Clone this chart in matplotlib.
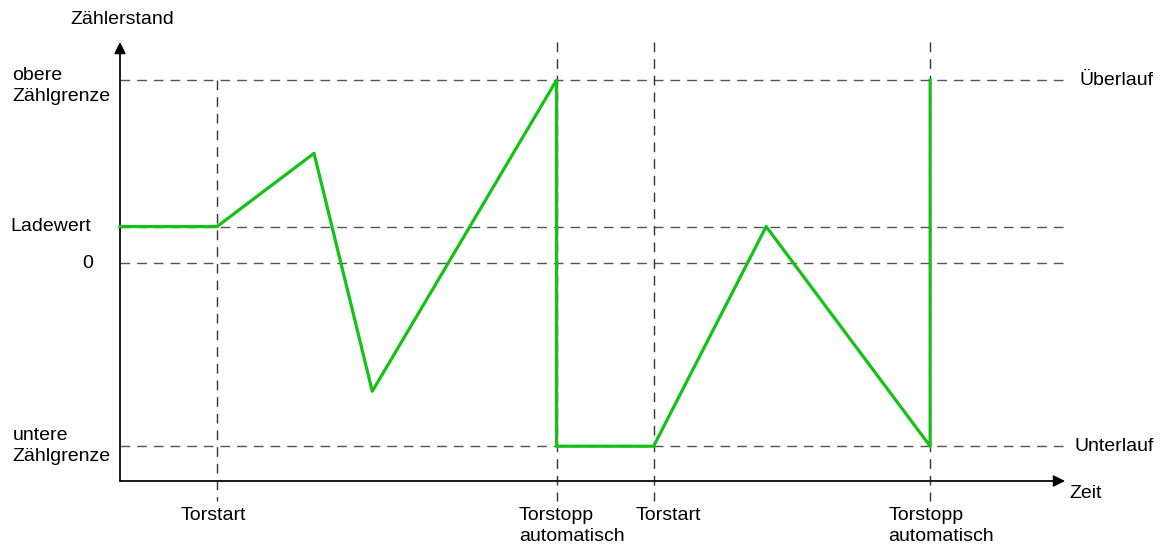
import matplotlib
matplotlib.use("Agg")
import matplotlib.pyplot as plt

plt.rcParams['font.family'] = ['Liberation Sans', 'DejaVu Sans']
plt.rcParams['lines.scale_dashes'] = False

# count levels
upper_limit = 100
load_value = 20
zero = 0
lower_limit = -100

# time marks
t_start1 = 10
t_stop1 = 45
t_start2 = 55
t_stop2 = 83.5
t_end = 97.4

# counter curve
curve_t = [0, 10, 20, 26, 45, 45, 55, 66.6, 83.5, 83.5]
curve_y = [20, 20, 60, -70, 100, -100, -100, 20, -100, 100]

level_values = [upper_limit, load_value, zero, lower_limit]
level_labels_left = ["obere\nZählgrenze", "Ladewert", "0", "untere\nZählgrenze"]
gate_times = [t_start1, t_stop1, t_start2, t_stop2]
gate_labels = ["Torstart", "Torstopp\nautomatisch", "Torstart", "Torstopp\nautomatisch"]

fig = plt.figure(figsize=(11.67, 5.46), dpi=100)
W, H = 1167, 546
ax = fig.add_axes([120 / W, (H - 481) / H, 945 / W, 439 / H])
ax.set_xlim(0, t_end)
ax.set_ylim(-119, 120.8)
ax.axis('off')

dash = (0, (7, 5))
gray = '#555555'
fs = 14

# horizontal guide lines
for v in level_values:
    ax.plot([0, t_end], [v, v], color=gray, lw=1, linestyle=dash, clip_on=False)

# vertical guide lines
for i, t in enumerate(gate_times):
    top = upper_limit if i == 0 else 120.8
    ax.plot([t, t], [top, -130], color='#333333', lw=1, linestyle=dash, clip_on=False)

# axes with arrows
ax.annotate('', xy=(t_end, -119), xytext=(0, -119),
            arrowprops=dict(arrowstyle='-|>', color='black', lw=1, mutation_scale=18,
                            shrinkA=0, shrinkB=0), annotation_clip=False)
ax.plot([0, t_end - 1], [-119, -119], color='#444444', lw=1.2, clip_on=False)
ax.annotate('', xy=(0, 120.8), xytext=(0, -119),
            arrowprops=dict(arrowstyle='-|>', color='black', lw=1, mutation_scale=18,
                            shrinkA=0, shrinkB=0), annotation_clip=False)
ax.plot([0, 0], [-119, 118], color='#444444', lw=1.2, clip_on=False)

# counter curve
ax.plot(curve_t, curve_y, color='#14c214', lw=2.3, clip_on=False, zorder=5)

# left labels
ax.text(-11.1, 97, level_labels_left[0], fontsize=fs, ha='left', va='center', linespacing=1.3)
ax.text(-3.0, load_value, level_labels_left[1], fontsize=fs, ha='right', va='center')
ax.text(-2.8, zero, level_labels_left[2], fontsize=fs, ha='right', va='center')
ax.text(-11.1, lower_limit, level_labels_left[3], fontsize=fs, ha='left', va='center', linespacing=1.3)

# right labels
ax.text(98.9, upper_limit, "Überlauf", fontsize=fs, ha='left', va='center')
ax.text(98.4, lower_limit, "Unterlauf", fontsize=fs, ha='left', va='center')
ax.text(97.8, -126, "Zeit", fontsize=fs, ha='left', va='center')
ax.text(0.2, 133, "Zählerstand", fontsize=fs, ha='center', va='center')

# bottom gate labels
ax.text(t_start1 - 0.4, -133, gate_labels[0], fontsize=fs, ha='center', va='top')
ax.text(41.1, -133, gate_labels[1], fontsize=fs, ha='left', va='top', linespacing=1.3)
ax.text(53.1, -133, gate_labels[2], fontsize=fs, ha='left', va='top')
ax.text(79.2, -133, gate_labels[3], fontsize=fs, ha='left', va='top', linespacing=1.3)

fig.savefig('out.png', dpi=100, facecolor='white')
